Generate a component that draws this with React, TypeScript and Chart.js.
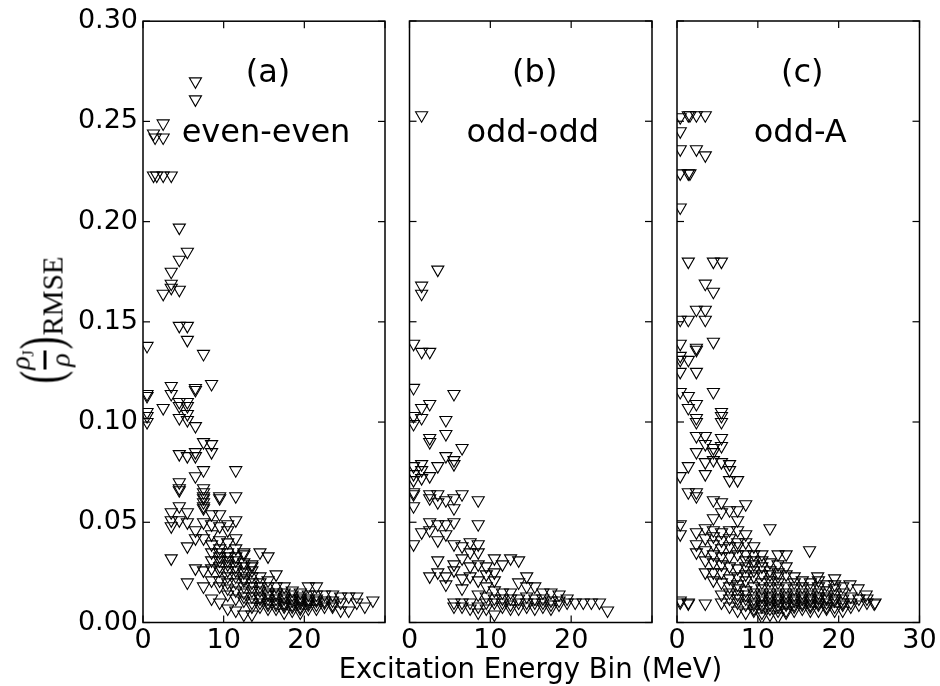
import React, { useEffect, useRef } from 'react';
import { Chart, registerables } from 'chart.js';

Chart.register(...registerables);

// ---------- data ----------
const X_TICKS = [0, 10, 20, 30];
const X_LABELS_AB = ['0', '10', '20', ''];
const X_LABELS_C = ['0', '10', '20', '30'];
const Y_TICKS = [0, 0.05, 0.1, 0.15, 0.2, 0.25, 0.3];
const Y_TICK_LABELS = ['0.00', '0.05', '0.10', '0.15', '0.20', '0.25', '0.30'];
const PANEL_TAGS = ['(a)', '(b)', '(c)'];
const PANEL_NAMES = ['even-even', 'odd-odd', 'odd-A'];
const X_TITLE = 'Excitation Energy Bin (MeV)';

// [excitation energy bin (MeV), (rho_J / rho) RMSE]
const evenEven: [number, number][] = [
  [6.5, 0.270], [6.5, 0.261], [2.5, 0.249], [1.5, 0.242], [1.3, 0.244], [2.5, 0.242],
  [1.3, 0.223], [1.7, 0.223], [2.5, 0.223], [3.5, 0.223], [4.5, 0.197], [5.5, 0.185],
  [4.5, 0.181], [3.5, 0.175], [3.5, 0.169], [3.5, 0.167], [4.5, 0.166], [2.5, 0.164],
  [4.5, 0.148], [5.5, 0.148], [5.5, 0.141], [0.5, 0.138], [7.5, 0.134], [8.5, 0.119],
  [3.5, 0.118], [6.5, 0.117], [6.5, 0.116], [3.5, 0.114], [0.5, 0.114], [0.5, 0.113],
  [4.5, 0.110], [5.5, 0.110], [4.5, 0.108], [5.5, 0.108], [2.5, 0.107], [0.5, 0.105],
  [0.5, 0.103], [0.5, 0.100], [4.5, 0.102], [5.5, 0.104], [5.5, 0.101], [6.5, 0.098],
  [7.5, 0.090], [8.5, 0.089], [4.5, 0.084], [5.5, 0.083], [6.5, 0.085], [6.5, 0.083],
  [8.5, 0.085], [7.5, 0.076], [11.5, 0.076], [6.5, 0.073], [4.5, 0.070], [4.5, 0.067],
  [4.5, 0.066], [9.5, 0.062], [11.5, 0.063],
  [3.5, 0.055], [3.5, 0.051], [3.5, 0.048], [3.5, 0.032],
  [4.5, 0.058], [4.5, 0.051],
  [5.5, 0.055], [5.5, 0.050], [5.5, 0.038], [5.5, 0.020],
  [6.5, 0.046], [6.5, 0.042], [6.5, 0.027],
  [7.5, 0.067], [7.5, 0.065], [7.5, 0.063], [7.5, 0.062], [7.5, 0.060], [7.5, 0.058], [7.5, 0.057],
  [7.5, 0.050], [7.5, 0.042], [7.5, 0.026], [7.5, 0.018],
  [8.5, 0.054], [8.5, 0.049], [8.5, 0.044], [8.5, 0.039], [8.5, 0.035], [8.5, 0.031], [8.5, 0.021], [8.5, 0.012],
  [9.5, 0.063], [9.5, 0.054], [9.5, 0.048], [9.5, 0.041], [9.5, 0.037], [9.5, 0.035], [9.5, 0.031],
  [9.5, 0.026], [9.5, 0.021], [9.5, 0.018], [9.5, 0.010],
  [10.5, 0.049], [10.5, 0.046], [10.5, 0.040], [10.5, 0.035], [10.5, 0.031], [10.5, 0.029], [10.5, 0.026],
  [10.5, 0.023], [10.5, 0.020], [10.5, 0.017], [10.5, 0.007],
  [11.5, 0.051], [11.5, 0.042], [11.5, 0.037], [11.5, 0.031], [11.5, 0.026], [11.5, 0.023], [11.5, 0.020],
  [11.5, 0.016], [11.5, 0.012], [11.5, 0.006],
  [12.5, 0.035], [12.5, 0.034], [12.5, 0.028], [12.5, 0.025], [12.5, 0.021], [12.5, 0.018], [12.5, 0.015],
  [12.5, 0.011], [12.5, 0.004],
  [13.5, 0.029], [13.5, 0.028], [13.5, 0.026], [13.5, 0.023], [13.5, 0.020], [13.5, 0.016], [13.5, 0.013],
  [13.5, 0.010], [13.5, 0.004],
  [14.5, 0.035], [14.5, 0.023], [14.5, 0.020], [14.5, 0.016], [14.5, 0.013], [14.5, 0.010], [14.5, 0.008],
  [15.5, 0.033], [15.5, 0.021], [15.5, 0.018], [15.5, 0.015], [15.5, 0.012], [15.5, 0.010], [15.5, 0.007],
  [16.5, 0.024], [16.5, 0.018], [16.5, 0.015], [16.5, 0.012], [16.5, 0.010], [16.5, 0.007],
  [17.5, 0.018], [17.5, 0.015], [17.5, 0.013], [17.5, 0.010], [17.5, 0.008], [17.5, 0.005],
  [18.5, 0.016], [18.5, 0.014], [18.5, 0.011], [18.5, 0.009], [18.5, 0.006],
  [19.5, 0.015], [19.5, 0.013], [19.5, 0.011], [19.5, 0.010], [19.5, 0.008], [19.5, 0.005],
  [20.5, 0.018], [20.5, 0.014], [20.5, 0.011], [20.5, 0.009], [20.5, 0.007],
  [21.5, 0.018], [21.5, 0.014], [21.5, 0.011], [21.5, 0.009],
  [22.5, 0.014], [22.5, 0.011], [22.5, 0.008],
  [23.5, 0.014], [23.5, 0.011], [23.5, 0.009],
  [24.5, 0.013], [24.5, 0.010], [24.5, 0.006],
  [25.5, 0.013], [25.5, 0.006],
  [26.5, 0.013], [26.5, 0.010],
  [27.5, 0.008],
  [28.5, 0.011],
  [12.5, 0.030], [12.5, 0.022], [13.5, 0.018], [13.5, 0.008], [14.5, 0.018], [14.5, 0.012],
  [15.5, 0.014], [15.5, 0.009], [16.5, 0.014], [16.5, 0.009], [17.5, 0.012], [17.5, 0.009],
  [18.5, 0.012], [18.5, 0.008], [19.5, 0.012], [19.5, 0.007], [20.5, 0.012], [20.5, 0.010],
  [21.5, 0.012], [21.5, 0.007], [22.5, 0.010], [23.5, 0.008], [10.5, 0.033], [11.5, 0.033],
  [11.5, 0.028], [10.5, 0.014], [12.5, 0.013], [9.5, 0.028], [8.5, 0.027], [9.5, 0.033],
];

const oddOdd: [number, number][] = [
  [1.5, 0.253], [3.5, 0.176], [1.5, 0.168], [1.5, 0.164], [0.5, 0.139], [1.5, 0.135], [2.5, 0.135],
  [0.5, 0.117], [5.5, 0.114], [2.5, 0.109], [1.5, 0.107], [0.5, 0.103], [1.5, 0.102], [0.5, 0.099],
  [4.5, 0.101], [4.5, 0.094], [2.5, 0.092], [2.5, 0.090], [6.5, 0.087],
  [0.5, 0.078], [1.5, 0.079], [0.5, 0.074], [1.5, 0.076], [2.5, 0.073], [3.5, 0.078], [4.5, 0.083],
  [5.5, 0.081], [5.5, 0.079],
  [0.5, 0.071], [1.5, 0.072], [0.5, 0.065], [0.5, 0.064], [0.5, 0.058], [2.5, 0.064], [2.5, 0.062],
  [3.5, 0.064], [3.5, 0.060], [4.5, 0.061], [5.5, 0.062], [5.5, 0.057], [6.5, 0.064], [8.5, 0.061],
  [0.5, 0.039], [1.5, 0.045], [2.5, 0.050], [2.5, 0.046], [3.5, 0.049], [3.5, 0.041], [4.5, 0.049],
  [4.5, 0.044], [5.5, 0.050], [8.5, 0.049],
  [5.5, 0.039], [6.5, 0.038], [7.5, 0.040], [8.5, 0.039], [7.5, 0.035], [8.5, 0.035],
  [3.5, 0.031], [5.5, 0.029], [6.5, 0.032], [7.5, 0.028], [8.5, 0.029], [10.5, 0.032], [11.5, 0.029],
  [12.5, 0.032], [13.5, 0.031],
  [2.5, 0.023], [3.5, 0.025], [4.5, 0.023], [4.5, 0.019], [5.5, 0.026], [6.5, 0.022], [7.5, 0.023],
  [8.5, 0.021], [9.5, 0.028], [9.5, 0.024], [10.5, 0.025], [10.5, 0.021], [14.5, 0.023],
  [6.5, 0.017], [8.5, 0.014], [9.5, 0.018], [10.5, 0.016], [11.5, 0.015], [12.5, 0.015], [13.5, 0.020],
  [14.5, 0.018], [15.5, 0.018], [16.5, 0.015], [17.5, 0.015], [18.5, 0.014],
  [5.5, 0.010], [6.5, 0.010], [7.5, 0.010], [8.5, 0.008], [9.5, 0.010], [10.5, 0.010], [11.5, 0.010],
  [12.5, 0.009], [13.5, 0.010], [14.5, 0.010], [15.5, 0.010], [16.5, 0.010], [17.5, 0.009], [18.5, 0.009],
  [19.5, 0.010], [20.5, 0.010], [21.5, 0.010], [22.5, 0.010], [23.5, 0.010], [24.5, 0.006], [10.5, 0.004],
  [8.5, 0.005],
  [9.5, 0.013], [10.5, 0.012], [11.5, 0.012], [12.5, 0.012], [13.5, 0.012], [14.5, 0.013], [15.5, 0.012],
  [16.5, 0.012], [17.5, 0.011], [11.5, 0.008], [12.5, 0.007], [13.5, 0.007], [14.5, 0.008], [15.5, 0.007],
  [16.5, 0.008], [17.5, 0.007], [18.5, 0.011], [19.5, 0.012], [7.5, 0.007], [6.5, 0.008], [5.5, 0.008],
  [9.5, 0.007],
];

const oddA: [number, number][] = [
  [0.4, 0.252], [1.4, 0.253], [1.6, 0.253], [2.4, 0.253], [3.5, 0.253], [0.4, 0.245], [0.4, 0.236],
  [2.4, 0.236], [3.5, 0.233], [0.4, 0.224], [1.4, 0.224], [1.6, 0.224], [0.4, 0.207],
  [1.4, 0.180], [4.5, 0.180], [5.5, 0.180], [3.5, 0.169], [4.5, 0.165], [2.4, 0.156], [3.5, 0.156],
  [0.4, 0.151], [1.4, 0.151], [3.5, 0.151],
  [0.4, 0.139], [2.4, 0.137], [2.4, 0.136], [4.5, 0.140], [0.4, 0.133], [0.4, 0.131], [1.4, 0.131],
  [0.4, 0.125], [2.4, 0.125],
  [0.4, 0.115], [1.4, 0.113], [4.5, 0.115], [2.4, 0.109], [1.4, 0.107], [2.4, 0.102], [5.5, 0.105],
  [5.5, 0.103],
  [2.4, 0.100], [5.5, 0.100], [2.4, 0.093], [3.5, 0.093], [3.5, 0.089], [4.5, 0.087], [4.5, 0.085],
  [5.5, 0.092], [2.4, 0.085], [5.5, 0.088],
  [1.4, 0.078], [3.5, 0.080], [4.5, 0.081], [5.5, 0.080], [6.5, 0.079], [6.5, 0.076], [0.4, 0.073],
  [3.5, 0.074], [6.5, 0.071], [7.5, 0.071],
  [1.4, 0.065], [2.4, 0.065], [2.4, 0.063],
  [4.5, 0.061], [5.5, 0.060], [6.5, 0.056], [7.5, 0.056], [8.5, 0.059], [4.5, 0.052], [7.5, 0.051],
  [5.5, 0.055],
  [0.4, 0.049], [0.4, 0.044], [11.5, 0.047],
  [2.4, 0.045], [3.5, 0.047], [4.5, 0.046], [5.5, 0.045], [6.5, 0.046], [7.5, 0.046], [8.5, 0.044],
  [2.4, 0.039], [3.5, 0.042], [4.5, 0.039], [5.5, 0.041], [6.5, 0.042], [7.5, 0.040],
  [16.4, 0.036], [12.5, 0.034], [13.5, 0.034],
  [3.5, 0.031], [4.5, 0.034], [5.5, 0.033], [6.5, 0.033], [7.5, 0.034], [8.5, 0.034], [9.5, 0.034],
  [10.5, 0.034], [3.5, 0.025], [4.5, 0.025], [5.5, 0.025], [6.5, 0.028], [7.5, 0.027], [8.5, 0.028],
  [9.5, 0.029], [10.5, 0.028], [13.5, 0.028], [12.5, 0.025],
  [4.5, 0.021], [5.5, 0.020], [6.5, 0.022], [7.5, 0.019], [8.5, 0.021], [9.5, 0.023], [10.5, 0.020],
  [11.5, 0.021], [12.5, 0.020], [14.5, 0.023], [17.4, 0.023], [19.5, 0.022], [21.4, 0.019],
  [22.4, 0.017], [23.4, 0.014], [24.4, 0.0095],
  [0.4, 0.010], [1.4, 0.0095], [3.5, 0.0095], [0.4, 0.011], [1.4, 0.010],
  [5.5, 0.010], [5.5, 0.014],
  [6.5, 0.012], [6.5, 0.008], [6.5, 0.015],
  [7.5, 0.014], [7.5, 0.010], [7.5, 0.006], [7.5, 0.017],
  [8.5, 0.016], [8.5, 0.012], [8.5, 0.009], [8.5, 0.005],
  [9.5, 0.018], [9.5, 0.015], [9.5, 0.012], [9.5, 0.009], [9.5, 0.006],
  [10.5, 0.017], [10.5, 0.014], [10.5, 0.011], [10.5, 0.008], [10.5, 0.005], [10.5, 0.003],
  [11.5, 0.018], [11.5, 0.015], [11.5, 0.012], [11.5, 0.010], [11.5, 0.007], [11.5, 0.004],
  [12.5, 0.017], [12.5, 0.014], [12.5, 0.011], [12.5, 0.008], [12.5, 0.006], [12.5, 0.003],
  [13.5, 0.018], [13.5, 0.015], [13.5, 0.012], [13.5, 0.009], [13.5, 0.006], [13.5, 0.005],
  [14.5, 0.017], [14.5, 0.014], [14.5, 0.011], [14.5, 0.009], [14.5, 0.006],
  [15.5, 0.018], [15.5, 0.015], [15.5, 0.012], [15.5, 0.009], [15.5, 0.007],
  [16.5, 0.017], [16.5, 0.014], [16.5, 0.011], [16.5, 0.008], [16.5, 0.006],
  [17.5, 0.018], [17.5, 0.015], [17.5, 0.012], [17.5, 0.009], [17.5, 0.006],
  [18.5, 0.016], [18.5, 0.013], [18.5, 0.010], [18.5, 0.007],
  [19.5, 0.017], [19.5, 0.014], [19.5, 0.011], [19.5, 0.008], [19.5, 0.006],
  [20.5, 0.015], [20.5, 0.012], [20.5, 0.009], [20.5, 0.006],
  [21.5, 0.013], [21.5, 0.010],
  [22.5, 0.012],
  [23.5, 0.012], [23.5, 0.010],
  [24.5, 0.010],
  [8.5, 0.031], [9.5, 0.031], [10.5, 0.031], [11.5, 0.030], [11.5, 0.026], [12.5, 0.029], [12.5, 0.023],
  [13.5, 0.024], [14.5, 0.020], [15.5, 0.021], [16.5, 0.020], [17.5, 0.021], [18.5, 0.019], [19.5, 0.019],
  [20.5, 0.018], [8.5, 0.024], [9.5, 0.026], [10.5, 0.024], [11.5, 0.024], [7.5, 0.023], [6.5, 0.018],
  [7.5, 0.012], [8.5, 0.014], [9.5, 0.010], [10.5, 0.013], [11.5, 0.013], [12.5, 0.012], [13.5, 0.013],
  [14.5, 0.012], [15.5, 0.013], [16.5, 0.012], [17.5, 0.013], [18.5, 0.012], [19.5, 0.012], [20.5, 0.010],
  [12.5, 0.009], [13.5, 0.010], [14.5, 0.008], [15.5, 0.010], [16.5, 0.009], [17.5, 0.010], [18.5, 0.008],
  [11.5, 0.009], [10.5, 0.009], [9.5, 0.007], [21.5, 0.008], [22.5, 0.009], [2.4, 0.035], [3.5, 0.036],
  [4.5, 0.030], [5.5, 0.029], [6.5, 0.038], [7.5, 0.038], [8.5, 0.040], [9.5, 0.038], [5.5, 0.037],
  [4.5, 0.043],
];

// ---------- drawing ----------
const FONT = 'DejaVu Sans';

const framePlugin = {
  id: 'frame',
  afterDraw(chart: any, _args: any, opts: any) {
    const { ctx, chartArea: a, scales } = chart;
    ctx.save();
    ctx.strokeStyle = '#000';
    ctx.lineWidth = 1.5;
    ctx.strokeRect(a.left, a.top, a.right - a.left, a.bottom - a.top);
    ctx.lineWidth = 1.2;
    const L = 7;
    const seg = (x1: number, y1: number, x2: number, y2: number) => {
      ctx.beginPath();
      ctx.moveTo(x1, y1);
      ctx.lineTo(x2, y2);
      ctx.stroke();
    };
    Y_TICKS.forEach((v) => {
      const y = scales.y.getPixelForValue(v);
      seg(a.left, y, a.left + L, y);
      seg(a.right, y, a.right - L, y);
    });
    X_TICKS.forEach((v) => {
      const x = scales.x.getPixelForValue(v);
      seg(x, a.top, x, a.top + L);
      seg(x, a.bottom, x, a.bottom - L);
    });
    ctx.fillStyle = '#000';
    ctx.textAlign = 'center';
    ctx.textBaseline = 'alphabetic';
    ctx.font = `32px "${FONT}"`;
    const cx = (a.left + a.right) / 2 + 2;
    ctx.fillText(opts.tag, cx + 2, 82);
    ctx.fillText(opts.name, cx, 141.5);
    ctx.restore();
  },
};

type PanelProps = {
  pts: [number, number][];
  left: number;
  width: number;
  padL: number;
  padR: number;
  showY: boolean;
  xLabels: string[];
  tag: string;
  name: string;
};

function Panel({ pts, left, width, padL, padR, showY, xLabels, tag, name }: PanelProps) {
  const ref = useRef<HTMLCanvasElement>(null);
  useEffect(() => {
    const chart = new Chart(ref.current as HTMLCanvasElement, {
      type: 'scatter',
      data: {
        datasets: [
          {
            data: pts.map(([x, y]) => ({ x, y })),
            pointStyle: 'triangle',
            rotation: 180,
            pointRadius: 7,
            borderColor: '#000',
            backgroundColor: 'rgba(0,0,0,0)',
            borderWidth: 1.1,
            clip: 0,
          } as any,
        ],
      },
      options: {
        responsive: false,
        animation: false,
        events: [],
        layout: { padding: { left: padL, right: padR, top: 21, bottom: 0 } },
        plugins: {
          legend: { display: false },
          tooltip: { enabled: false },
          frame: { tag, name },
        } as any,
        scales: {
          x: {
            type: 'linear',
            min: 0,
            max: 30,
            afterBuildTicks: (s: any) => {
              s.ticks = X_TICKS.map((v) => ({ value: v }));
            },
            afterFit: (s: any) => {
              s.height = 63.5;
            },
            ticks: {
              callback: (_v: any, i: number) => xLabels[i],
              font: { family: FONT, size: 27 },
              color: '#000',
              padding: 2,
              maxRotation: 0,
              autoSkip: false,
            },
            grid: { display: false, drawTicks: false },
            border: { display: false },
          } as any,
          y: {
            type: 'linear',
            min: 0,
            max: 0.3,
            display: showY,
            afterBuildTicks: (s: any) => {
              s.ticks = Y_TICKS.map((v) => ({ value: v }));
            },
            afterFit: (s: any) => {
              s.width = showY ? 143 : 0;
            },
            ticks: {
              callback: (_v: any, i: number) => Y_TICK_LABELS[i],
              font: { family: FONT, size: 27 },
              color: '#000',
              padding: 5,
              autoSkip: false,
            },
            grid: { display: false, drawTicks: false },
            border: { display: false },
          } as any,
        },
      },
      plugins: [framePlugin as any],
    });
    return () => chart.destroy();
  }, []);
  return (
    <canvas
      ref={ref}
      width={width}
      height={686}
      style={{ position: 'absolute', left, top: 0, width, height: 686, display: 'block' }}
    />
  );
}

function YLabel() {
  const paren = (ch: string) => (
    <span
      style={{
        fontSize: 38,
        lineHeight: '38px',
        display: 'inline-block',
        transform: 'scaleY(1.55)',
      }}
    >
      {ch}
    </span>
  );
  return (
    <div
      style={{
        position: 'absolute',
        left: 39.5,
        top: 320,
        transform: 'translate(-50%, -50%) rotate(-90deg)',
        display: 'flex',
        alignItems: 'center',
        height: 55,
        whiteSpace: 'nowrap',
        fontFamily: '"Liberation Serif", "DejaVu Serif", serif',
        color: '#000',
      }}
    >
      {paren('(')}
      <span
        style={{
          display: 'inline-flex',
          flexDirection: 'column',
          alignItems: 'center',
          margin: '0 1px',
        }}
      >
        <span style={{ fontSize: 28, lineHeight: '22px', fontStyle: 'italic' }}>
          ρ<span style={{ fontSize: 16, fontStyle: 'normal', verticalAlign: '-4px' }}>J</span>
        </span>
        <span style={{ alignSelf: 'stretch', height: 3, background: '#000', margin: '4px 0 3px' }} />
        <span style={{ fontSize: 28, lineHeight: '22px', fontStyle: 'italic' }}>ρ</span>
      </span>
      {paren(')')}
      <span style={{ fontSize: 29, lineHeight: '29px', alignSelf: 'flex-end', marginLeft: 1 }}>RMSE</span>
    </div>
  );
}

function XTitle() {
  return (
    <div
      style={{
        position: 'absolute',
        left: 530.5,
        top: 668,
        transform: 'translate(-50%, -50%)',
        fontFamily: `"${FONT}"`,
        fontSize: 27.5,
        lineHeight: '30px',
        whiteSpace: 'nowrap',
        color: '#000',
      }}
    >
      {X_TITLE}
    </div>
  );
}

export default function App() {
  return (
    <div style={{ position: 'absolute', left: 0, top: 0, width: 940, height: 686, background: '#fff' }}>
      <Panel
        pts={evenEven}
        left={0}
        width={395}
        padL={0}
        padR={10}
        showY={true}
        xLabels={X_LABELS_AB}
        tag={PANEL_TAGS[0]}
        name={PANEL_NAMES[0]}
      />
      <Panel
        pts={oddOdd}
        left={397}
        width={268}
        padL={12.5}
        padR={13}
        showY={false}
        xLabels={X_LABELS_AB}
        tag={PANEL_TAGS[1]}
        name={PANEL_NAMES[1]}
      />
      <Panel
        pts={oddA}
        left={665}
        width={275}
        padL={12}
        padR={20.5}
        showY={false}
        xLabels={X_LABELS_C}
        tag={PANEL_TAGS[2]}
        name={PANEL_NAMES[2]}
      />
      <YLabel />
      <XTitle />
    </div>
  );
}
